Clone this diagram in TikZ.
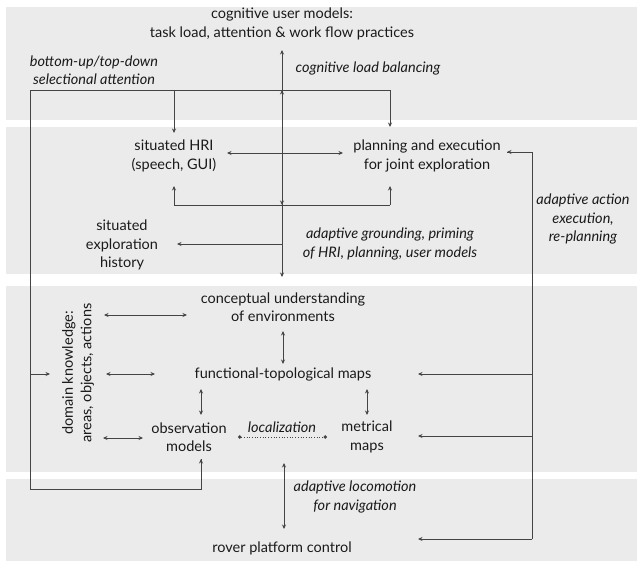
\documentclass[tikz,border=0pt]{standalone}
\usepackage{fontspec}
\setmainfont{Lato}
\usetikzlibrary{arrows.meta}
\definecolor{band}{HTML}{EBEBEB}
\definecolor{ln}{HTML}{444444}
\definecolor{tx}{HTML}{1A1A1A}
\begin{document}
\begin{tikzpicture}[x=1pt,y=-1pt,
  lbl/.style={font=\fontsize{14.5}{18.5}\selectfont, text=tx, align=center, inner sep=0pt},
  ital/.style={lbl, font=\fontsize{14.5}{18.5}\selectfont\itshape},
  con/.style={draw=ln, line width=0.8pt},
  arr/.style={con, -{Stealth[length=4.5pt,width=4pt]}},
  darr/.style={con, {Stealth[length=4.5pt,width=4pt]}-{Stealth[length=4.5pt,width=4pt]}},
  dotc/.style={draw=ln, line width=0.7pt, dotted, {Circle[length=3.5pt]}-{Circle[length=3.5pt]}},
]
% background and bands
\fill[white] (0,0) rectangle (637,561);
\useasboundingbox (0,0) rectangle (637,561);
\fill[band] (6,7) rectangle (637,120);
\fill[band] (6,127) rectangle (637,274);
\fill[band] (6,286) rectangle (637,472);
\fill[band] (6,479) rectangle (637,561);

% texts
\node[lbl] (cum) at (282,24) {cognitive user models:\\task load, attention \& work flow practices};
\node[ital] (sel) at (94,70) {bottom-up/top-down\\selectional attention};
\node[ital] (clb) at (368,68) {cognitive load balancing};
\node[lbl] (hri) at (174,156) {situated HRI\\(speech, GUI)};
\node[lbl] (plan) at (427,156) {planning and execution\\for joint exploration};
\node[lbl] (hist) at (122,245) {situated\\exploration\\history};
\node[ital] (ag) at (390,244) {adaptive grounding, priming\\of HRI, planning, user models};
\node[ital] (aae) at (583,219) {adaptive action\\execution,\\re-planning};
\node[lbl] (conc) at (283,307) {conceptual understanding\\of environments};
\node[lbl, rotate=90] (dk) at (78,373) {domain knowledge:\\areas, objects, actions};
\node[lbl] (ftm) at (283,374) {functional-topological maps};
\node[lbl] (obs) at (189,437) {observation\\models};
\node[ital] (loc) at (282,427) {localization};
\node[lbl] (met) at (367,437) {metrical\\maps};
\node[ital] (alo) at (355,497) {adaptive locomotion\\for navigation};
\node[lbl] (rover) at (282,548) {rover platform control};

% coordinates
\coordinate (cTop) at (282,50);
\coordinate (cBot) at (282,277);
\coordinate (aL) at (30,90);
\coordinate (aLb) at (30,489);
\coordinate (aOb) at (201,489);
\coordinate (obsIn) at (201,459);
\coordinate (aR) at (390,90);
\coordinate (planTop) at (390,127);
\coordinate (hriJ) at (174,90);
\coordinate (hriTop) at (174,133);
\coordinate (dkJ) at (30,374);
\coordinate (dkIn) at (50,374);
\coordinate (hriBot) at (174,186);
\coordinate (jL) at (174,205);
\coordinate (jR) at (390,205);
\coordinate (planBot) at (390,186);
\coordinate (hriE) at (227,153);
\coordinate (planW) at (343,153);
\coordinate (histJ) at (282,244);
\coordinate (histE) at (177,244);
\coordinate (planE) at (507,152);
\coordinate (rTop) at (532,152);
\coordinate (rBot) at (532,539);
\coordinate (roverE) at (418,539);
\coordinate (rFtm) at (532,374);
\coordinate (ftmE) at (418,374);
\coordinate (rMet) at (532,436);
\coordinate (metE) at (418,436);

% central distribution line
\draw[darr] (cBot) -- (cTop);
\draw[arr] (282,97) -- (282,90);
\draw[arr] (282,198) -- (282,205);
% selectional attention loop
\draw[con] (obsIn) -- (aOb) -- (aLb) -- (aL) -- (aR);
\draw[arr] (aOb) -- (obsIn);
\draw[arr] (aR) -- (planTop);
\draw[arr] (hriJ) -- (hriTop);
\draw[arr] (dkJ) -- (dkIn);
\fill[ln] (hriJ) rectangle ++(1.5,1.5);
% HRI / planning
\draw[arr] (jL) -- (hriBot);
\draw[con] (jL) -- (jR);
\draw[arr] (jR) -- (planBot);
\draw[darr] (hriE) -- (planW);
\draw[arr] (histJ) -- (histE);
% right line
\draw[con] (planE) -- (rTop) -- (rBot);
\draw[arr] (rTop) -- (planE);
\draw[arr] (rBot) -- (roverE);
\draw[arr] (rFtm) -- (ftmE);
\draw[arr] (rMet) -- (metE);
% band 3
\draw[darr] (104,315) -- (187,315);
\draw[darr] (283,331) -- (283,364);
\draw[darr] (106,374) -- (155,374);
\draw[darr] (201,389) -- (201,415);
\draw[darr] (367,389) -- (367,415);
\draw[darr] (103,438) -- (143,438);
\draw[dotc] (238,437) -- (327,437);
% band 4
\draw[darr] (284,463) -- (284,529);
\end{tikzpicture}
\end{document}
